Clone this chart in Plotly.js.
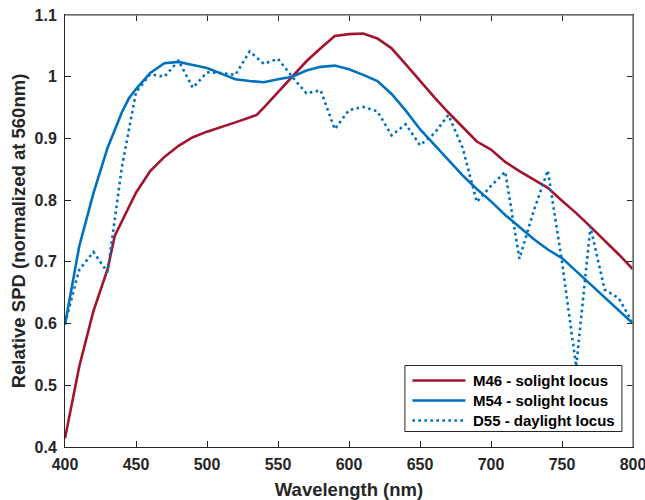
<!DOCTYPE html>
<html>
<head>
<meta charset="utf-8">
<script src="https://cdn.plot.ly/plotly-3.0.1.min.js"></script>
<style>
  html, body { margin: 0; padding: 0; background: #fff; }
  #chart { width: 645px; height: 500px; }
</style>
</head>
<body>
<div id="chart"></div>
<script>
// ---- data ----
const wavelengthM46 = [400,410,420,430,435,440,450,460,470,480,490,500,510,520,530,535,540,550,560,570,580,590,600,610,620,630,640,650,660,670,680,690,700,710,720,730,740,750,760,770,780,790,800];
const spdM46 = [0.414,0.530,0.620,0.688,0.742,0.765,0.812,0.847,0.870,0.888,0.902,0.911,0.918,0.926,0.934,0.938,0.950,0.975,0.999,1.025,1.046,1.066,1.069,1.070,1.062,1.046,1.020,0.993,0.967,0.942,0.918,0.895,0.882,0.862,0.847,0.833,0.820,0.799,0.779,0.757,0.735,0.712,0.688];

const wavelengthM54 = [400,410,420,430,440,445,450,460,470,480,490,500,510,520,530,540,550,560,570,580,590,600,610,620,630,640,650,660,670,680,690,700,710,720,730,740,750,760,770,780,790,800];
const spdM54 = [0.598,0.725,0.811,0.885,0.942,0.965,0.980,1.006,1.022,1.024,1.019,1.014,1.005,0.996,0.993,0.991,0.996,1.000,1.010,1.016,1.018,1.012,1.003,0.993,0.972,0.945,0.915,0.890,0.865,0.840,0.818,0.798,0.776,0.756,0.737,0.720,0.706,0.685,0.664,0.643,0.622,0.600];

const wavelengthD55 = [400,410,420,430,440,450,460,470,480,490,500,510,520,530,540,550,560,570,580,590,600,610,620,630,640,650,660,670,680,690,700,710,720,730,740,750,760,770,780,790,800];
const spdD55 = [0.600,0.687,0.716,0.683,0.853,0.975,1.004,1.000,1.026,0.982,1.007,1.006,1.003,1.041,1.021,1.029,1.000,0.973,0.978,0.915,0.946,0.951,0.944,0.905,0.923,0.889,0.908,0.938,0.885,0.797,0.823,0.846,0.705,0.782,0.848,0.700,0.530,0.757,0.655,0.641,0.600];

const seriesNames = ['M46 - solight locus', 'M54 - solight locus', 'D55 - daylight locus'];
const xTickVals = [400,450,500,550,600,650,700,750,800];
const yTickVals = [0.4,0.5,0.6,0.7,0.8,0.9,1,1.1];
const yTickText = ['0.4','0.5','0.6','0.7','0.8','0.9','1','1.1'];
const xLabel = 'Wavelength (nm)';
const yLabel = 'Relative SPD (normalized at 560nm)';

// ---- styling ----
const FONT = 'Liberation Sans, Arial, Helvetica, sans-serif';
const AX = '#262626';
const BOX = '#7f7f7f';
const RED = '#A2142F';
const BLUE = '#0072BD';
const LW = 2.6;
const DOTS = '2.6px,3.4px';
const seriesColors = [RED, BLUE, BLUE];
const seriesDash = ['solid', 'solid', DOTS];

// plot area in pixels (for placing the hand-made legend)
const W = 645, H = 500, ML = 64.6, MR = 12.4, MT = 15, MB = 53;
const PW = W - ML - MR, PH = H - MT - MB;
const px = v => (v - ML) / PW;          // pixel x -> paper x
const py = v => (H - MB - v) / PH;      // pixel y -> paper y

const traces = seriesNames.map((nm, i) => ({
  x: [wavelengthM46, wavelengthM54, wavelengthD55][i],
  y: [spdM46, spdM54, spdD55][i],
  name: nm, type: 'scatter', mode: 'lines', hoverinfo: 'skip', showlegend: false,
  line: {color: seriesColors[i], width: LW, dash: seriesDash[i]}
}));

// legend (box + sample lines + labels)
const legBox = {x0: 404.5, x1: 621.5, y0: 365.5, y1: 431.5};
const rowY = [380.5, 400.5, 420.5];
const shapes = [
  {type: 'rect', xref: 'paper', yref: 'paper', x0: px(legBox.x0), x1: px(legBox.x1), y0: py(legBox.y1), y1: py(legBox.y0),
   line: {color: AX, width: 1}, fillcolor: '#fff', layer: 'above'},
  // lighter box lines (top / right), as in the reference
  {type: 'line', xref: 'paper', yref: 'paper', x0: 0, x1: 1, y0: 1, y1: 1, line: {color: BOX, width: 1.5}, layer: 'above'},
  {type: 'line', xref: 'paper', yref: 'paper', x0: 1, x1: 1, y0: 0, y1: 1, line: {color: BOX, width: 1.5}, layer: 'above'}
];
const annotations = [];
seriesNames.forEach((nm, i) => {
  shapes.push({type: 'line', xref: 'paper', yref: 'paper', x0: px(412), x1: px(465), y0: py(rowY[i]), y1: py(rowY[i]),
    line: {color: seriesColors[i], width: LW, dash: seriesDash[i]}, layer: 'above'});
  annotations.push({xref: 'paper', yref: 'paper', x: px(470.5), y: py(rowY[i]), xanchor: 'left', yanchor: 'middle',
    text: nm, showarrow: false, font: {family: FONT, size: 15, color: '#000', weight: 'bold'}});
});

const tickFont = {family: FONT, size: 16, color: AX, weight: 'bold'};
const titleFont = {family: FONT, size: 18.5, color: AX, weight: 'bold'};

const layout = {
  width: W, height: H,
  margin: {l: ML, r: MR, t: MT, b: MB, pad: 0},
  paper_bgcolor: '#fff', plot_bgcolor: '#fff',
  showlegend: false,
  shapes: shapes,
  annotations: annotations,
  xaxis: {
    range: [400, 800], tickvals: xTickVals, ticks: 'inside', ticklen: 6, tickwidth: 1,
    tickcolor: AX, showline: true, linecolor: AX, linewidth: 1, mirror: 'ticks',
    showgrid: false, zeroline: false, tickfont: tickFont, ticklabeloverflow: 'allow', ticklabelstandoff: 3,
    title: {text: xLabel, font: titleFont, standoff: 11}
  },
  yaxis: {
    range: [0.4, 1.1], tickvals: yTickVals, ticktext: yTickText, ticks: 'inside', ticklen: 6, tickwidth: 1,
    tickcolor: AX, showline: true, linecolor: AX, linewidth: 1, mirror: 'ticks',
    showgrid: false, zeroline: false, tickfont: tickFont, ticklabeloverflow: 'allow', ticklabelstandoff: 4,
    title: {text: yLabel, font: titleFont, standoff: 4}
  }
};

Plotly.newPlot('chart', traces, layout, {staticPlot: true, displayModeBar: false});
</script>
</body>
</html>
